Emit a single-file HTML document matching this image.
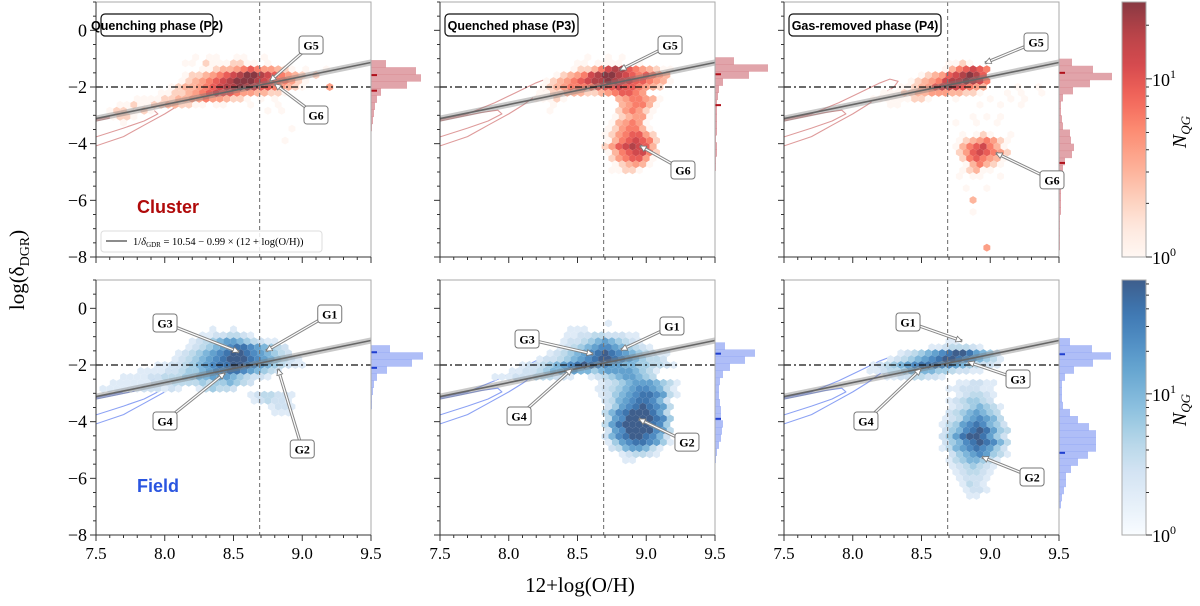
<!DOCTYPE html>
<html><head><meta charset="utf-8"><style>
html,body{margin:0;padding:0;background:#fff;}
svg{display:block;}
.serif{font-family:"Liberation Serif",serif;}
.sans{font-family:"Liberation Sans",sans-serif;}
</style></head><body>
<svg id="fig" width="1200" height="606" viewBox="0 0 1200 606" xmlns="http://www.w3.org/2000/svg">
<defs id="defs"></defs>
<text class="serif" x="24" y="270" font-size="21" text-anchor="middle" transform="rotate(-90 24 270)">log(δ<tspan font-size="14" dy="5">DGR</tspan><tspan dy="-5">)</tspan></text>
<text class="serif" x="580" y="592" font-size="21" text-anchor="middle">12+log(O/H)</text>
<g id="root"></g>
</svg>
<script>
// ---------- data ----------
const xTicks = [7.5, 8.0, 8.5, 9.0, 9.5];
const xTickLabels = ["7.5","8.0","8.5","9.0","9.5"];
const yTicks = [0, -2, -4, -6, -8];
const yTickLabels = ["0","−2","−4","−6","−8"];
const fitIntercept = 10.54;
const fitSlope = 0.99;
const solarZ = 8.69;
const refDGR = -2;
const phaseTitles = ["Quenching phase (P2)", "Quenched phase (P3)", "Gas-removed phase (P4)"];
const redMax = 27;
const blueMax = 64;
// hexbin rows: [rowIndex k (y=-2+0.21k), startColumn (x=7.5+0.05c), level string]
const hexClusterP2 = [[5,14,"10110011001"],[4,13,"1102111221101"],[3,15,"1123345654432101001"],[2,13,"12234567899876543212"],[1,12,"1234567899987655421"],[0,11,"123345678898766543210004"],[-1,9,"1122345676654433221"],[-2,6,"1111223344544322101010"],[-3,3,"112112233221101100010001"],[-4,2,"12211210000000000000000101"],[-5,2,"1221"],[-6,4,"1"],[-7,28,"1"],[-9,27,"1"]];
const hexClusterP3 = [[5,21,"1001010"],[4,20,"1101111001"],[3,19,"122357886543211"],[2,17,"12345789987656543"],[1,15,"1234567889877665431"],[0,15,"123455556667665432"],[-1,14,"1122333223456654"],[-2,14,"1112100000003455431"],[-3,16,"1000000000345531"],[-4,16,"1000000000245421"],[-5,25,"123441"],[-6,25,"134541"],[-7,24,"1245531"],[-8,24,"12456642"],[-9,24,"13567652"],[-10,24,"24678763"],[-11,24,"13567752"],[-12,25,"2456641"],[-13,25,"123431"],[-14,25,"11221"]];
const hexClusterP4 = [[4,24,"11210"],[3,23,"1356765"],[2,20,"1234678986"],[1,18,"123457889875"],[0,17,"1123467876543000010010"],[-1,14,"1112233444332210001010010"],[-2,13,"11111122100010000100101"],[-3,15,"11000000000001001001"],[-5,27,"10101"],[-6,25,"1001001"],[-8,26,"10121001"],[-9,25,"12345421"],[-10,25,"13567531"],[-11,25,"24676542"],[-12,26,"2565431"],[-13,26,"135321"],[-14,26,"12311"],[-15,25,"1011001"],[-17,26,"10010"],[-19,27,"3000"],[-21,27,"10"],[-27,29,"4"]];
const hexFieldP2 = [[6,17,"1001"],[5,15,"11223321"],[4,14,"1234566543211"],[3,13,"123456788765432"],[2,12,"12345678998765432"],[1,11,"1234567899987654321"],[0,9,"1122345678899876543211"],[-1,6,"111122344567788765432"],[-2,4,"1111223334455666543221"],[-3,2,"111111222333343445432"],[-4,1,"11111122212100134332"],[-5,22,"1233221"],[-6,23,"123221"],[-7,25,"1221"],[-8,26,"111"]];
const hexFieldP3 = [[7,24,"1"],[6,19,"111000"],[5,18,"11223322211"],[4,18,"122345654321"],[3,17,"12345677654321"],[2,16,"123456789876543211"],[1,14,"1223456789987654332"],[0,12,"12234567898776655443321"],[-1,10,"1122345566554566665431"],[-2,8,"111222333221001234566543"],[-3,22,"0123456665431"],[-4,23,"123456776531"],[-5,23,"124567887631"],[-6,24,"2356788752"],[-7,24,"2467898763"],[-8,24,"3578999863"],[-9,24,"3679999874"],[-10,24,"3689999874"],[-11,24,"2679999763"],[-12,24,"2578998752"],[-13,24,"1467887641"],[-14,25,"23566531"],[-15,26,"123321"],[-16,27,"11"]];
const hexFieldP4 = [[4,24,"11"],[3,21,"11233321"],[2,17,"123456789986542"],[1,15,"12345678998765431"],[0,13,"1234567888776543221"],[-1,12,"11233455554432211"],[-2,15,"112233221"],[-3,25,"112211"],[-4,24,"1122211"],[-5,25,"123321"],[-6,24,"1234432"],[-7,24,"12345431"],[-8,24,"23456543"],[-9,23,"123567653"],[-10,23,"1346787542"],[-11,23,"2457898643"],[-12,23,"2468998642"],[-13,23,"2457898753"],[-14,23,"1356787642"],[-15,24,"245676431"],[-16,24,"13455431"],[-17,24,"1234321"],[-18,25,"123321"],[-19,25,"12221"],[-20,26,"1321"],[-21,26,"1221"],[-22,27,"11"]];
// marginal histograms: top-edge value, bin counts (bin 0.25)
const histStart = [-1.05, -0.95, -1.0, -1.3, -1.2, -1.05];
const histClusterP2 = [15,45,50,36,10,6,4,3,2,1];
const histClusterP3 = [19,53,34,8,4,3,2,2,2,2,2,1,2,2,1,1];
const histClusterP4 = [13,34,53,31,14,4,2,2,3,4,11,12,15,13,6,4,3,2,2,2,2,2,1,1,1,1,1];
const histFieldP2 = [19,52,41,16,6,3,2,1,1];
const histFieldP3 = [10,40,30,15,8,5,4,4,5,6,6,8,7,6,4,2,1];
const histFieldP4 = [11,33,52,34,15,6,3,3,3,4,11,19,30,37,37,37,29,19,12,7,7,5,3,2];
const histMedians = [[-1.58,-2.13],[-1.55,-2.64],[-1.5,-4.68],[-1.55,-2.1],[-1.6,-3.9],[-1.62,-5.1]];
// contour (same reference sample in each panel)
const contourOuterX = [7.5,7.7,7.9,8.05,8.2,8.27,8.33,8.3,8.2,8.1,8.0,7.85,7.7,7.5];
const contourOuterY = [-3.15,-2.95,-2.55,-2.2,-1.85,-1.72,-1.8,-2.0,-2.3,-2.65,-2.95,-3.35,-3.75,-4.08];
const contourInnerX = [7.5,7.7,7.85,7.95,7.92,7.8,7.65,7.5];
const contourInnerY = [-3.76,-3.45,-3.2,-2.95,-2.82,-2.9,-3.05,-3.2];
// group annotations: [label, boxX, boxY, targetX, targetY] in data coordinates
const annClusterP2 = [["G5",9.064,-0.518,8.765,-1.79],["G6",9.1,-2.99,8.80,-1.894]];
const annClusterP3 = [["G5",9.173,-0.518,8.809,-1.40],["G6",9.267,-4.93,8.955,-4.08]];
const annClusterP4 = [["G5",9.333,-0.41,8.962,-1.153],["G6",9.449,-5.28,9.042,-4.33]];
const annFieldP2 = [["G3",8.002,-0.518,8.54,-1.54],["G1",9.2,-0.2,8.736,-1.506],["G4",8.002,-3.977,8.438,-2.28],["G2",9.0,-4.965,8.824,-2.14]];
const annFieldP3 = [["G3",8.133,-1.083,8.613,-1.612],["G1",9.187,-0.624,8.816,-1.47],["G4",8.075,-3.8,8.46,-2.14],["G2",9.296,-4.72,8.947,-3.906]];
const annFieldP4 = [["G1",8.402,-0.483,8.795,-1.153],["G3",9.202,-2.495,8.838,-1.894],["G4",8.096,-3.977,8.496,-2.14],["G2",9.304,-5.954,8.94,-5.248]];

// ---------- drawing ----------
const NS = "http://www.w3.org/2000/svg";
const root = document.getElementById("root");
function mk(tag, attrs, parent) {
  const e = document.createElementNS(NS, tag);
  for (const k in attrs) e.setAttribute(k, attrs[k]);
  (parent || root).appendChild(e);
  return e;
}
const panelX0 = [96, 440, 784];
const panelY0 = [2, 280];
const PW = 275, PH = 255;
function makeX(col) { return v => panelX0[col] + (v - 7.5) / 2 * PW; }
function makeY(row) { return v => panelY0[row] + (1 - v) / 9 * PH; }

const redStops = ["#fff5f0","#fee0d2","#fcbba1","#fc9272","#fb6a4a","#ef3b2c","#cb181d","#a50f15","#67000d"];
const blueStops = ["#f7fbff","#deebf7","#c6dbef","#9ecae1","#6baed6","#4292c6","#2171b5","#08519c","#08306b"];
function hex2rgb(h){return [parseInt(h.slice(1,3),16),parseInt(h.slice(3,5),16),parseInt(h.slice(5,7),16)];}
function cmap(stops, t) {
  t = Math.max(0, Math.min(1, t));
  const p = t * (stops.length - 1), i = Math.min(stops.length - 2, Math.floor(p)), f = p - i;
  const a = hex2rgb(stops[i]), b = hex2rgb(stops[i + 1]);
  const c = a.map((v, j) => v + (b[j] - v) * f);
  const al = 0.78;
  return "rgb(" + c.map(v => Math.round(v * al + 255 * (1 - al))).join(",") + ")";
}

const defs = document.getElementById("defs");
[["redGrad", redStops], ["blueGrad", blueStops]].forEach(([id, stops]) => {
  const g = mk("linearGradient", {id: id, x1: 0, y1: 1, x2: 0, y2: 0}, defs);
  for (let i = 0; i <= 20; i++) mk("stop", {offset: i / 20, "stop-color": cmap(stops, i / 20)}, g);
});
for (let r = 0; r < 2; r++) for (let c = 0; c < 3; c++) {
  const cp = mk("clipPath", {id: "clip" + r + c}, defs);
  mk("rect", {x: panelX0[c], y: panelY0[r], width: PW, height: PH}, cp);
}

const hexData = [[hexClusterP2, hexClusterP3, hexClusterP4], [hexFieldP2, hexFieldP3, hexFieldP4]];
const histData = [[histClusterP2, histClusterP3, histClusterP4], [histFieldP2, histFieldP3, histFieldP4]];
const annData = [[annClusterP2, annClusterP3, annClusterP4], [annFieldP2, annFieldP3, annFieldP4]];

for (let r = 0; r < 2; r++) {
  const stops = r === 0 ? redStops : blueStops;
  const vmax = r === 0 ? redMax : blueMax;
  for (let c = 0; c < 3; c++) {
    const X = makeX(c), Y = makeY(r);
    const panel = mk("g", {});
    
    
    const clipped = mk("g", {"clip-path": "url(#clip" + r + c + ")"}, panel);

    const ccol = r === 0 ? "rgba(205,100,100,0.65)" : "rgba(100,130,240,0.75)";
    [[contourOuterX, contourOuterY], [contourInnerX, contourInnerY]].forEach(([xs, ys], i) => {
      const d = xs.map((x, j) => (j ? "L" : "M") + X(x).toFixed(1) + "," + Y(ys[j]).toFixed(1)).join("");
      const p = mk("path", {d: d, fill: "none", stroke: ccol, "stroke-width": 1.1, "stroke-linejoin": "round"}, clipped);
      
      
    });

    const hexG = mk("g", {}, clipped);
    
    
    const w = X(7.55) - X(7.5);
    const rad = w / Math.sqrt(3);
    hexData[r][c].forEach(([k, start, s]) => {
      for (let i = 0; i < s.length; i++) {
        const lv = +s[i];
        if (!lv) continue;
        const count = Math.round(Math.pow(vmax, lv / 9));
        const cx = X(7.5 + 0.05 * (start + i) + (Math.abs(k) % 2 ? 0.025 : 0));
        const cy = Y(-2 + 0.21 * k);
        let pts = [];
        for (let a = 0; a < 6; a++) {
          const ang = Math.PI / 180 * (60 * a - 90);
          pts.push((cx + rad * Math.cos(ang)).toFixed(1) + "," + (cy + rad * Math.sin(ang)).toFixed(1));
        }
        const h = mk("polygon", {points: pts.join(" "), fill: cmap(stops, Math.log(count) / Math.log(vmax))}, hexG);
        
        
      }
    });

    const fy = x => fitSlope * x - fitIntercept;
    const band = mk("polygon", {points: [X(7.5)+","+Y(fy(7.5)+0.11), X(9.5)+","+Y(fy(9.5)+0.11), X(9.5)+","+Y(fy(9.5)-0.11), X(7.5)+","+Y(fy(7.5)-0.11)].join(" "), fill: "rgba(120,120,120,0.4)"}, clipped);
    
    
    const fl = mk("line", {x1: X(7.5), y1: Y(fy(7.5)), x2: X(9.5), y2: Y(fy(9.5)), stroke: "#666", "stroke-width": 1.6}, clipped);
    
    
    const vl = mk("line", {x1: X(solarZ), y1: panelY0[r], x2: X(solarZ), y2: panelY0[r] + PH, stroke: "#777", "stroke-width": 1.1, "stroke-dasharray": "4,3"}, clipped);
    
    
    const hl = mk("line", {x1: X(7.5), y1: Y(refDGR), x2: X(9.5), y2: Y(refDGR), stroke: "#111", "stroke-width": 1.3, "stroke-dasharray": "7,3,2,3"}, clipped);
    
    

    const hg = mk("g", {}, panel);
    
    
    const hfill = r === 0 ? "rgba(200,90,100,0.55)" : "rgba(95,125,240,0.5)";
    const hs = histStart[r * 3 + c];
    histData[r][c].forEach((v, i) => {
      const y1 = Y(hs - 0.25 * i), y2 = Y(hs - 0.25 * (i + 1));
      const b = mk("rect", {x: X(9.5), y: y1, width: v, height: y2 - y1 + 0.3, fill: hfill}, hg);
      
      
    });
    histMedians[r * 3 + c].forEach(m => {
      const t = mk("line", {x1: X(9.5), x2: X(9.5) + 6, y1: Y(m), y2: Y(m), stroke: r === 0 ? "#b0101a" : "#1f3fd0", "stroke-width": 2}, hg);
      
      
    });

    const fr = mk("rect", {x: panelX0[c], y: panelY0[r], width: PW, height: PH, fill: "none", stroke: "#aaa", "stroke-width": 1}, panel);
    
    
    mk("line", {x1: panelX0[c], y1: panelY0[r], x2: panelX0[c], y2: panelY0[r] + PH, stroke: "#333", "stroke-width": 1}, panel);
    mk("line", {x1: panelX0[c], y1: panelY0[r] + PH, x2: panelX0[c] + PW, y2: panelY0[r] + PH, stroke: "#333", "stroke-width": 1}, panel);

    for (let v = 1; v >= -8; v -= 0.5) {
      const major = Math.abs(v % 2) < 1e-6;
      mk("line", {x1: panelX0[c] - (major ? 6 : 3), x2: panelX0[c], y1: Y(v), y2: Y(v), stroke: "#333", "stroke-width": 1}, panel);
    }
    if (c === 0) yTicks.forEach((v, i) => {
      const t = mk("text", {x: panelX0[c] - 9, y: Y(v) + 6, "font-size": 18, "text-anchor": "end", class: "serif"}, panel);
      t.textContent = yTickLabels[i];
      
      
    });
    for (let i = 0; i <= 20; i++) {
      const v = 7.5 + i * 0.1, major = i % 5 === 0;
      mk("line", {x1: X(v), x2: X(v), y1: panelY0[r] + PH, y2: panelY0[r] + PH + (major ? 6 : 3), stroke: "#333", "stroke-width": 1}, panel);
    }
    if (r === 1) xTicks.forEach((v, i) => {
      const t = mk("text", {x: X(v), y: panelY0[r] + PH + 24, "font-size": 17, "text-anchor": "middle", class: "serif"}, panel);
      t.textContent = xTickLabels[i];
      
      
    });

    if (r === 0) {
      const tw = [112, 133, 152][c];
      const box = mk("g", {}, panel);
      
      
      mk("rect", {x: panelX0[c] + 5, y: 14, width: tw, height: 22, rx: 4, fill: "#fff", stroke: "#111", "stroke-width": 1.2}, box);
      const t = mk("text", {x: panelX0[c] + 5 + tw / 2, y: 30, "font-size": 12.5, "font-weight": "bold", "text-anchor": "middle", class: "sans"}, box);
      t.textContent = phaseTitles[c];
    }

    annData[r][c].forEach(([lab, bx, by, tx, ty]) => {
      const g = mk("g", {}, panel);
      
      
      const x1 = X(bx), y1 = Y(by), x2 = X(tx), y2 = Y(ty);
      mk("line", {x1: x1, y1: y1, x2: x2, y2: y2, stroke: "#888", "stroke-width": 3.2}, g);
      mk("line", {x1: x1, y1: y1, x2: x2, y2: y2, stroke: "#fff", "stroke-width": 1.2}, g);
      const ang = Math.atan2(y2 - y1, x2 - x1);
      const hx = x2 - 6 * Math.cos(ang), hy = y2 - 6 * Math.sin(ang);
      mk("polygon", {points: [x2 + "," + y2, (hx + 3 * Math.sin(ang)) + "," + (hy - 3 * Math.cos(ang)), (hx - 3 * Math.sin(ang)) + "," + (hy + 3 * Math.cos(ang))].join(" "), fill: "#fff", stroke: "#777", "stroke-width": 0.8}, g);
      mk("rect", {x: x1 - 12, y: y1 - 9, width: 24, height: 18, rx: 3, fill: "#fff", stroke: "#777", "stroke-width": 1}, g);
      const t = mk("text", {x: x1, y: y1 + 4.5, "font-size": 12, "font-weight": "bold", "text-anchor": "middle", class: "serif"}, g);
      t.textContent = lab;
    });
  }

  const cb = mk("g", {});
  
  
  const y0 = panelY0[r];
  mk("rect", {x: 1122, y: y0, width: 24, height: PH, fill: r === 0 ? "url(#redGrad)" : "url(#blueGrad)", stroke: "#aaa", "stroke-width": 1}, cb);
  const cy = v => y0 + PH - Math.log10(v) / Math.log10(vmax) * PH;
  [1,2,3,4,5,6,7,8,9,10,20,30,40,50,60].forEach(v => {
    if (v > vmax) return;
    const major = v === 1 || v === 10;
    mk("line", {x1: 1146, x2: 1146 + (major ? 6 : 3), y1: cy(v), y2: cy(v), stroke: "#333"}, cb);
  });
  [[1, "0"], [10, "1"]].forEach(([v, e]) => {
    const t = mk("text", {x: 1152, y: cy(v) + 7, "font-size": 18, class: "serif"}, cb);
    t.innerHTML = '10<tspan font-size="12" dy="-8">' + e + '</tspan>';
    
    
  });
  const nl = mk("text", {x: 1186, y: y0 + 130, "font-size": 20, "font-style": "italic", "text-anchor": "middle", class: "serif", transform: "rotate(-90 1186 " + (y0 + 130) + ")"}, cb);
  nl.innerHTML = 'N<tspan font-size="13" dy="4">QG</tspan>';
  
  
}

const cl = mk("text", {x: 137, y: 213, "font-size": 18, "font-weight": "bold", fill: "#b00a0a", class: "sans"});
cl.textContent = "Cluster";


const fl2 = mk("text", {x: 137, y: 492, "font-size": 18, "font-weight": "bold", fill: "#2a55e0", class: "sans"});
fl2.textContent = "Field";


const lg = mk("g", {});


mk("rect", {x: 101, y: 231, width: 221, height: 21, rx: 3, fill: "rgba(255,255,255,0.85)", stroke: "#ddd"}, lg);
mk("line", {x1: 106, x2: 127, y1: 241, y2: 241, stroke: "#666", "stroke-width": 1.6}, lg);
const lt = mk("text", {x: 133, y: 245, "font-size": 10.5, class: "serif"}, lg);
lt.innerHTML = '1/<tspan font-style="italic">δ</tspan><tspan font-size="7" dy="2">GDR</tspan><tspan dy="-2"> = 10.54 − 0.99 × (12 + log(O/H))</tspan>';
</script>
</body></html>
